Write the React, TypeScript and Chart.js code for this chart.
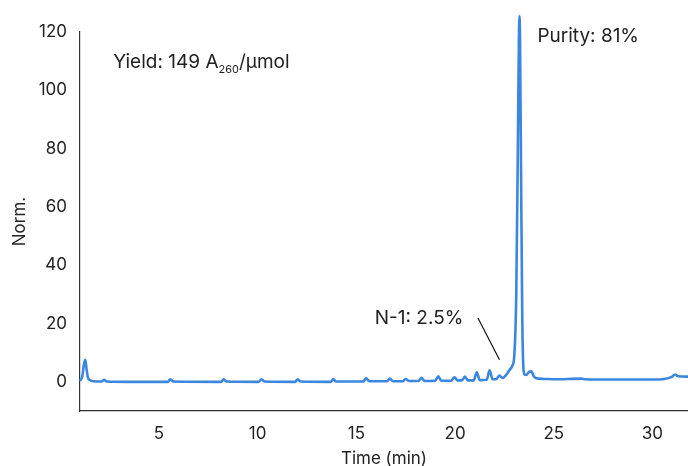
import React, { useEffect, useRef } from "react";
import { Chart, registerables } from "chart.js";

Chart.register(...registerables);

const times = [
  1.0, 1.12, 1.2, 1.27, 1.33, 1.4, 1.5, 1.7, 2.1, 2.22, 2.35, 3.5, 5.45, 5.58, 5.72,
  8.15, 8.28, 8.42, 10.05, 10.2, 10.35, 11.9, 12.03, 12.17, 13.7, 13.83, 13.97,
  15.35, 15.5, 15.65, 16.55, 16.7, 16.85, 17.35, 17.5, 17.65, 18.15, 18.3, 18.45,
  19.0, 19.15, 19.3, 19.8, 19.97, 20.12, 20.35, 20.5, 20.65, 20.95, 21.1, 21.25,
  21.6, 21.75, 21.9, 22.1, 22.25, 22.4, 22.6, 22.75, 22.9, 23.0, 23.1, 23.18,
  23.23, 23.26, 23.29, 23.34, 23.4, 23.46, 23.52, 23.62, 23.75, 23.86, 23.98,
  24.1, 24.5, 25.0, 26.4, 26.6, 28.0, 30.0, 30.6, 30.95, 31.15, 31.3, 31.8,
];
const values = [
  0.3, 2.0, 6.0, 7.6, 4.5, 1.5, 0.6, 0.2, 0.1, 0.7, 0.1, 0.0, 0.0, 0.9, 0.1,
  0.0, 0.9, 0.1, 0.0, 0.9, 0.1, 0.0, 0.9, 0.1, 0.0, 1.0, 0.1,
  0.1, 1.2, 0.2, 0.2, 1.1, 0.2, 0.2, 1.0, 0.3, 0.3, 1.4, 0.3,
  0.4, 1.9, 0.4, 0.4, 1.6, 0.5, 0.5, 1.8, 0.5, 0.5, 3.3, 0.6,
  0.7, 4.0, 0.9, 1.0, 2.2, 1.3, 2.5, 4.0, 5.5, 9, 30, 80,
  115, 125.5, 118, 75, 25, 5, 2.5, 2.4, 3.4, 3.6, 2.0,
  1.2, 1.0, 0.9, 1.1, 0.9, 0.8, 0.8, 1.0, 1.6, 2.5, 1.9, 1.8,
];
const xTicks = [5, 10, 15, 20, 25, 30];
const yTicks = [0, 20, 40, 60, 80, 100, 120];

const FONT = "Inter";
const TEXT = "#222222";

const annotations = {
  id: "annotations",
  afterDraw(chart: any) {
    const { ctx, scales } = chart;
    const x = scales.x;
    const y = scales.y;
    ctx.save();
    ctx.fillStyle = TEXT;
    ctx.textBaseline = "alphabetic";
    ctx.textAlign = "left";
    // Yield text
    let px = x.getPixelForValue(2.68);
    const py = y.getPixelForValue(107.7);
    ctx.font = `19px ${FONT}`;
    const t1 = "Yield: 149 A";
    ctx.fillText(t1, px, py);
    px += ctx.measureText(t1).width;
    ctx.font = `11px ${FONT}`;
    ctx.fillText("260", px, py + 5.5);
    px += ctx.measureText("260").width;
    ctx.font = `19px ${FONT}`;
    ctx.fillText("/µmol", px, py);
    // Purity
    ctx.fillText("Purity: 81%", x.getPixelForValue(24.17), y.getPixelForValue(116.6));
    // N-1
    ctx.textAlign = "right";
    ctx.fillText("N-1: 2.5%", x.getPixelForValue(20.42), y.getPixelForValue(19.8));
    ctx.strokeStyle = "#111111";
    ctx.lineWidth = 1.2;
    ctx.beginPath();
    ctx.moveTo(x.getPixelForValue(21.16), y.getPixelForValue(21.9));
    ctx.lineTo(x.getPixelForValue(22.25), y.getPixelForValue(7.6));
    ctx.stroke();
    ctx.restore();
  },
};

export default function App() {
  const ref = useRef<HTMLCanvasElement>(null);
  useEffect(() => {
    document.body.style.margin = "0";
    const data = times.map((t, i) => ({ x: t, y: values[i] }));
    const chart = new Chart(ref.current as HTMLCanvasElement, {
      type: "line",
      data: {
        datasets: [
          {
            data,
            borderColor: "#3b86df",
            borderWidth: 2.6,
            pointRadius: 0,
            fill: false,
            cubicInterpolationMode: "monotone",
            clip: false as any,
          },
        ],
      },
      options: {
        animation: false,
        responsive: false,
        maintainAspectRatio: false,
        layout: { padding: { top: 32, right: 0, left: 0, bottom: 0 } },
        plugins: { legend: { display: false }, tooltip: { enabled: false } },
        scales: {
          x: {
            type: "linear",
            min: 1,
            max: 31.8,
            border: { display: true, color: "#333333", width: 1.2 },
            grid: { display: false, drawTicks: true, tickLength: 7, color: "#333333" },
            afterBuildTicks: (s: any) => {
              s.ticks = xTicks.map((v) => ({ value: v }));
            },
            afterFit: (s: any) => {
              s.height = 55;
            },
            ticks: { color: TEXT, font: { family: FONT, size: 17 }, padding: 6, maxRotation: 0 },
            title: {
              display: true,
              text: "Time (min)",
              color: TEXT,
              font: { family: FONT, size: 17 },
              padding: { top: 0, bottom: -3 },
            },
          },
          y: {
            type: "linear",
            min: -10,
            max: 120,
            border: { display: true, color: "#333333", width: 1.2 },
            grid: { display: false, drawTicks: true, tickLength: 7, color: "#333333" },
            afterBuildTicks: (s: any) => {
              s.ticks = yTicks.map((v) => ({ value: v }));
            },
            afterFit: (s: any) => {
              s.width = 80;
            },
            ticks: { color: TEXT, font: { family: FONT, size: 17 }, padding: 6 },
            title: {
              display: true,
              text: "Norm.",
              color: TEXT,
              font: { family: FONT, size: 17 },
              padding: { top: 10, bottom: 0 },
            },
          },
        },
      },
      plugins: [annotations],
    });
    return () => chart.destroy();
  }, []);
  return (
    <div style={{ width: 688, height: 466 }}>
      <canvas ref={ref} width={688} height={466} />
    </div>
  );
}
